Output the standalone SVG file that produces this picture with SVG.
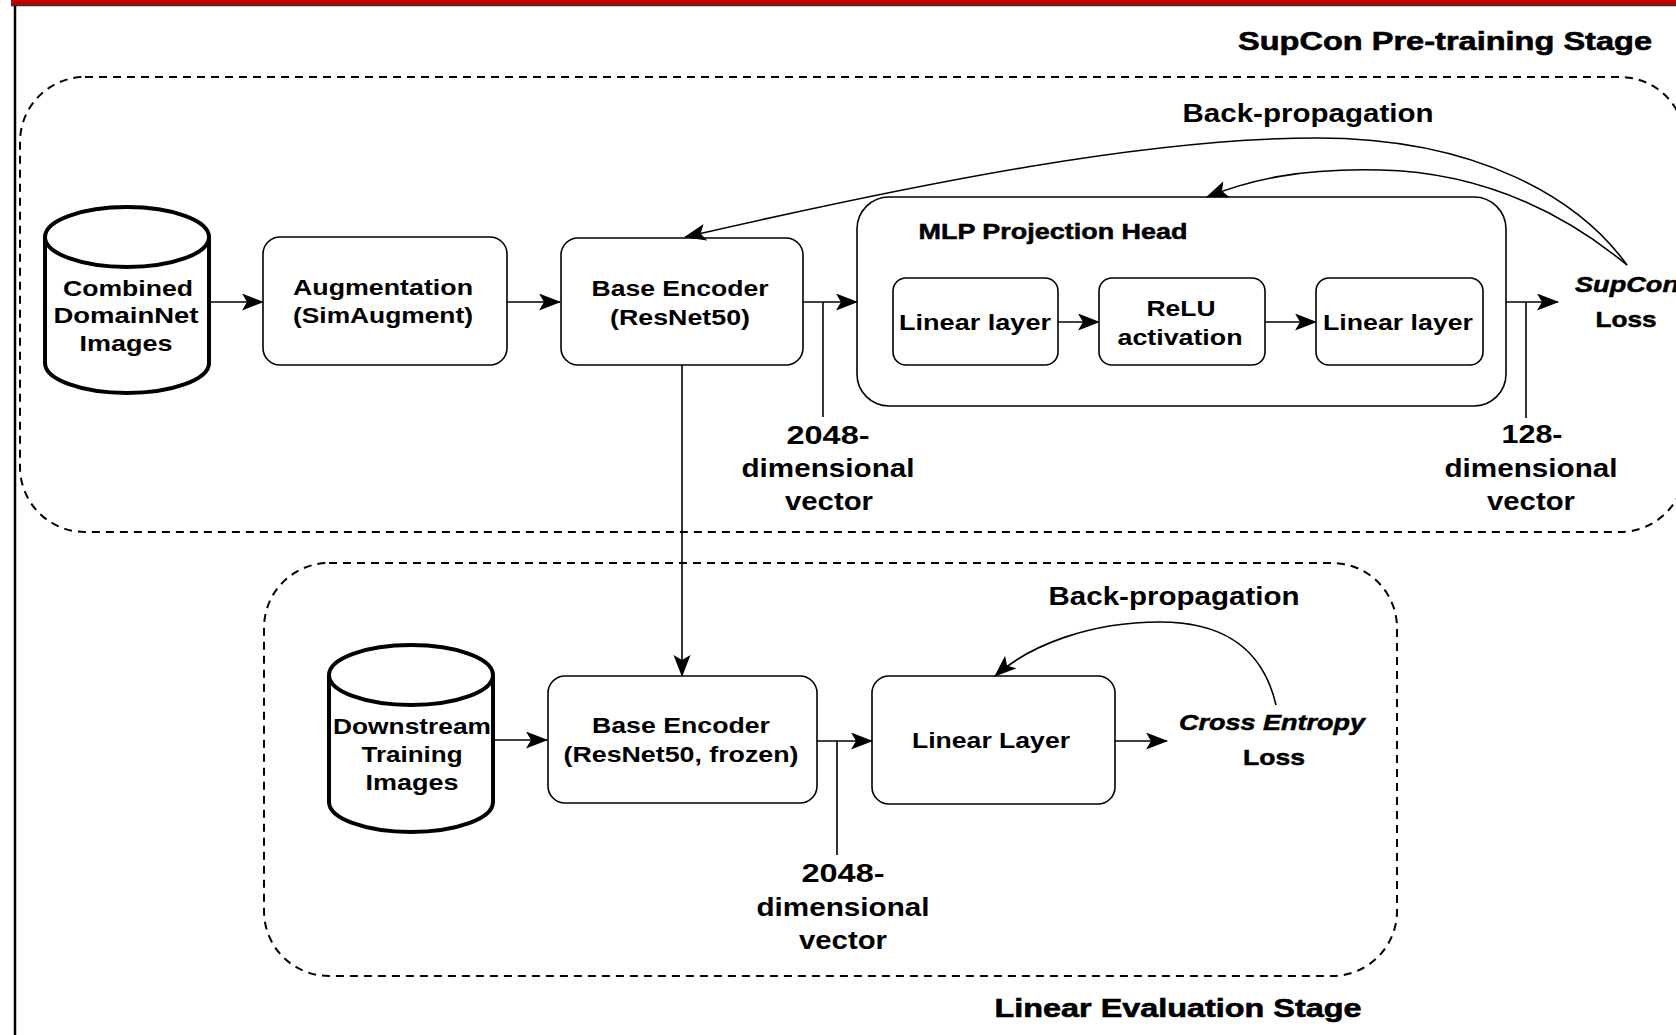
<svg xmlns="http://www.w3.org/2000/svg" width="1676" height="1035" viewBox="0 0 1676 1035">
<style>
text{font-family:"Liberation Sans",Arial,Helvetica,sans-serif;font-weight:bold;fill:#000;text-anchor:middle}
.t22{font-size:22px}
.t25{font-size:25px}
.t26{font-size:26px;stroke:#000;stroke-width:0.6}
.heavy{stroke:#000;stroke-width:0.5}
.it{font-style:italic}
.box{fill:#fff;stroke:#000;stroke-width:1.6}
.cyl{fill:#fff;stroke:#000;stroke-width:4}
.stage{fill:none;stroke:#000;stroke-width:2;stroke-dasharray:8 6}
.con{fill:none;stroke:#000;stroke-width:1.6}
.arr{marker-end:url(#ah)}
</style>
<defs>
<marker id="ah" markerUnits="userSpaceOnUse" markerWidth="24" markerHeight="18" refX="21" refY="8.5" orient="auto">
<path d="M0,0 L22,8.5 L0,17 L5,8.5 Z" fill="#000"/>
</marker>
</defs>
<rect x="0" y="0" width="1676" height="1035" fill="#fff"/>
<rect x="11" y="0" width="1665" height="5" fill="#c00000"/>
<line x1="11" y1="5.5" x2="1676" y2="5.5" stroke="#333" stroke-width="1.5"/>
<line x1="15" y1="6" x2="15" y2="1035" stroke="#000" stroke-width="2.5"/>

<g id="stage-pretrain">
<rect class="stage" x="20" y="77" width="1665" height="455" rx="65" ry="65"/>
<text class="t26" x="1445" y="50" textLength="414" lengthAdjust="spacingAndGlyphs">SupCon Pre-training Stage</text>
</g>
<g id="stage-linear">
<rect class="stage" x="264" y="563" width="1133" height="413" rx="65" ry="65"/>
<text class="t26" x="1178" y="1017" textLength="367" lengthAdjust="spacingAndGlyphs">Linear Evaluation Stage</text>
</g>

<g id="combined-images">
<path class="cyl" d="M45,237 A82,30 0 0 1 209,237 L209,363 A82,30 0 0 1 45,363 Z"/>
<path class="cyl" d="M45,237 A82,30 0 0 0 209,237"/>
<text class="t22" x="128" y="296" textLength="130" lengthAdjust="spacingAndGlyphs">Combined</text>
<text class="t22" x="126" y="323" textLength="145" lengthAdjust="spacingAndGlyphs">DomainNet</text>
<text class="t22" x="126" y="351" textLength="93" lengthAdjust="spacingAndGlyphs">Images</text>
</g>

<g id="augmentation">
<rect class="box" x="263" y="237" width="244" height="128" rx="17"/>
<text class="t22" x="383" y="295" textLength="180" lengthAdjust="spacingAndGlyphs">Augmentation</text>
<text class="t22" x="383" y="323" textLength="180" lengthAdjust="spacingAndGlyphs">(SimAugment)</text>
</g>

<g id="base-encoder">
<rect class="box" x="561" y="238" width="242" height="127" rx="17"/>
<text class="t22" x="680" y="296" textLength="177" lengthAdjust="spacingAndGlyphs">Base Encoder</text>
<text class="t22" x="680" y="325" textLength="140" lengthAdjust="spacingAndGlyphs">(ResNet50)</text>
</g>

<g id="mlp-head">
<rect class="box" x="857" y="197" width="649" height="209" rx="32"/>
<text class="t22 heavy" x="1053" y="239" textLength="269" lengthAdjust="spacingAndGlyphs">MLP Projection Head</text>
</g>

<g id="linear-layer-1">
<rect class="box" x="893" y="278" width="165" height="87" rx="13"/>
<text class="t22" x="975" y="330" textLength="152" lengthAdjust="spacingAndGlyphs">Linear layer</text>
</g>

<g id="relu">
<rect class="box" x="1099" y="278" width="166" height="87" rx="13"/>
<text class="t22" x="1181" y="316" textLength="69" lengthAdjust="spacingAndGlyphs">ReLU</text>
<text class="t22" x="1180" y="345" textLength="125" lengthAdjust="spacingAndGlyphs">activation</text>
</g>

<g id="linear-layer-2">
<rect class="box" x="1316" y="278" width="167" height="87" rx="13"/>
<text class="t22" x="1398" y="330" textLength="150" lengthAdjust="spacingAndGlyphs">Linear layer</text>
</g>

<g id="supcon-loss">
<text class="t22 heavy it" x="1627" y="292" textLength="104" lengthAdjust="spacingAndGlyphs">SupCon</text>
<text class="t22 heavy" x="1626" y="327" textLength="61" lengthAdjust="spacingAndGlyphs">Loss</text>
</g>

<g id="downstream-images">
<path class="cyl" d="M329,675 A82,30 0 0 1 493,675 L493,802 A82,30 0 0 1 329,802 Z"/>
<path class="cyl" d="M329,675 A82,30 0 0 0 493,675"/>
<text class="t22" x="412" y="734" textLength="158" lengthAdjust="spacingAndGlyphs">Downstream</text>
<text class="t22" x="412" y="762" textLength="101" lengthAdjust="spacingAndGlyphs">Training</text>
<text class="t22" x="412" y="790" textLength="93" lengthAdjust="spacingAndGlyphs">Images</text>
</g>

<g id="base-encoder-frozen">
<rect class="box" x="548" y="676" width="269" height="127" rx="17"/>
<text class="t22" x="681" y="733" textLength="178" lengthAdjust="spacingAndGlyphs">Base Encoder</text>
<text class="t22" x="681" y="762" textLength="235" lengthAdjust="spacingAndGlyphs">(ResNet50, frozen)</text>
</g>

<g id="linear-layer-eval">
<rect class="box" x="872" y="676" width="243" height="128" rx="17"/>
<text class="t22" x="991" y="748" textLength="158" lengthAdjust="spacingAndGlyphs">Linear Layer</text>
</g>

<g id="ce-loss">
<text class="t22 heavy it" x="1272" y="730" textLength="186" lengthAdjust="spacingAndGlyphs">Cross Entropy</text>
<text class="t22 heavy" x="1274" y="765" textLength="62" lengthAdjust="spacingAndGlyphs">Loss</text>
</g>

<g id="connectors">
<path class="con arr" d="M209,302 L263,302"/>
<path class="con arr" d="M507,302 L560,302"/>
<path class="con arr" d="M803,302 L857,302"/>
<path class="con" d="M823,302 L823,417"/>
<path class="con arr" d="M1058,322 L1099,322"/>
<path class="con arr" d="M1265,322 L1316,322"/>
<path class="con arr" d="M1506,302 L1558,302"/>
<path class="con" d="M1526,302 L1526,418"/>
<path class="con arr" d="M682,365 L682,676"/>
<path class="con arr" d="M493,740 L547,740"/>
<path class="con arr" d="M817,741 L872,741"/>
<path class="con" d="M837,741 L837,855"/>
<path class="con arr" d="M1115,741 L1167,741"/>
<path class="con arr" d="M1627,265 C1580,200 1480,138 1317,138 C1150,138 929,181 685,237"/>
<path class="con arr" d="M1627,265 C1560,210 1480,172 1380,170 C1300,168 1250,180 1207,197"/>
<path class="con arr" d="M1276,705 C1262,645 1220,622 1160,622 C1090,622 1030,645 995,676"/>
</g>

<g id="labels">
<text class="t25" x="1308" y="122" textLength="251" lengthAdjust="spacingAndGlyphs">Back-propagation</text>
<text class="t25" x="1174" y="605" textLength="251" lengthAdjust="spacingAndGlyphs">Back-propagation</text>
<text class="t25" x="828" y="444" textLength="83" lengthAdjust="spacingAndGlyphs">2048-</text>
<text class="t25" x="828" y="477" textLength="173" lengthAdjust="spacingAndGlyphs">dimensional</text>
<text class="t25" x="829" y="510" textLength="88" lengthAdjust="spacingAndGlyphs">vector</text>
<text class="t25" x="1532" y="443" textLength="61" lengthAdjust="spacingAndGlyphs">128-</text>
<text class="t25" x="1531" y="477" textLength="173" lengthAdjust="spacingAndGlyphs">dimensional</text>
<text class="t25" x="1531" y="510" textLength="88" lengthAdjust="spacingAndGlyphs">vector</text>
<text class="t25" x="843" y="882" textLength="83" lengthAdjust="spacingAndGlyphs">2048-</text>
<text class="t25" x="843" y="916" textLength="173" lengthAdjust="spacingAndGlyphs">dimensional</text>
<text class="t25" x="843" y="949" textLength="88" lengthAdjust="spacingAndGlyphs">vector</text>
</g>
</svg>
